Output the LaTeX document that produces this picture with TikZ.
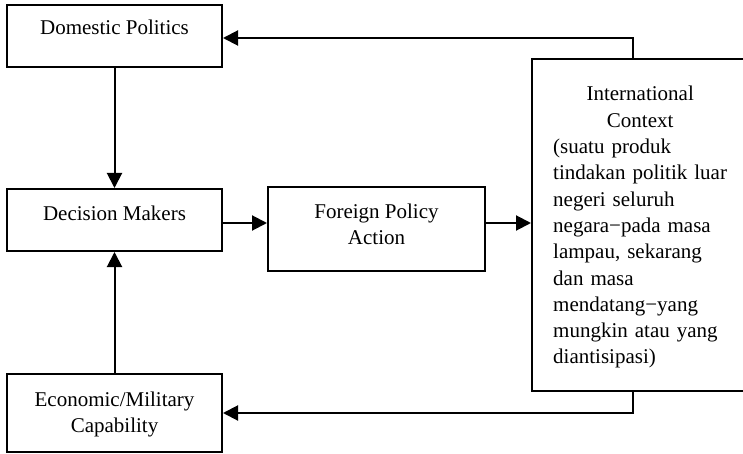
\documentclass[tikz,border=0pt]{standalone}
\usepackage{fontspec}
\setmainfont{Liberation Serif}
\usetikzlibrary{arrows.meta}
\begin{document}
\begin{tikzpicture}[x=1pt,y=-1pt,
  box/.style={draw, line width=2pt, inner sep=0pt, rectangle},
  txt/.style={font=\fontsize{21}{26}\selectfont, inner sep=0pt, align=center, anchor=base},
  con/.style={line width=2pt, -{Triangle[length=15pt,width=15pt]}}]
\useasboundingbox (0,0) rectangle (743,454);
% boxes
\node[box, minimum width=215pt, minimum height=62pt] (dp) at (114.5,36) {};
\node[box, minimum width=215pt, minimum height=62pt] (dm) at (114.5,220) {};
\node[box, minimum width=215pt, minimum height=78pt] (ec) at (114.5,413) {};
\node[box, minimum width=217pt, minimum height=84pt] (fp) at (376.5,229) {};
\node[box, minimum width=213pt, minimum height=332pt] (ic) at (638.5,225) {};
% texts
\node[txt] (dpt) at (114.5,35) {Domestic Politics};
\node[txt] (dmt) at (114.5,220) {Decision Makers};
\node[txt] (fpt) at (376.5,244) {Foreign Policy\\Action};
\node[txt] (ect) at (114.5,432) {Economic/Military\\Capability};
\node[font=\fontsize{21}{26.3}\selectfont, inner sep=0pt, text width=174pt, align=left, anchor=base west] (ict) at (553,101)
  {{\centering International\\Context\par}(suatu produk\\tindakan politik luar\\negeri seluruh\\negara−pada masa\\lampau, sekarang\\dan masa\\mendatang−yang\\mungkin atau yang\\diantisipasi)};
% connectors
\coordinate (bendtop) at (633,38);
\coordinate (bendbot) at (633,413);
\coordinate (midy) at (245,223);
\draw[con] (ic.north -| bendtop) -- (bendtop) -- (dp.east |- bendtop);
\draw[con] (ic.south -| bendbot) -- (bendbot) -- (ec.east |- bendbot);
\draw[con] (dp.south) -- (dm.north);
\draw[con] (ec.north) -- (dm.south);
\draw[con] (dm.east |- midy) -- (fp.west |- midy);
\draw[con] (fp.east |- midy) -- (ic.west |- midy);
\end{tikzpicture}
\end{document}
